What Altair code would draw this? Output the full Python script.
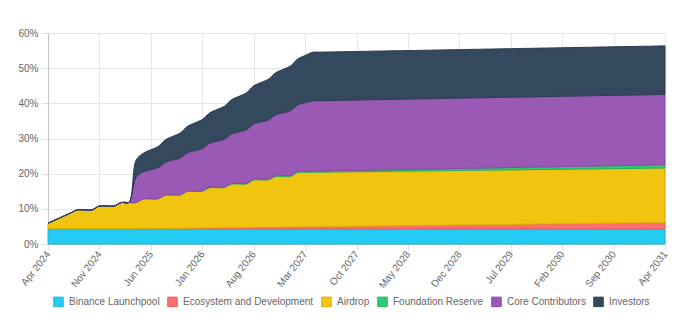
import json
import altair as alt
import pandas as pd

series = ["Binance Launchpool", "Ecosystem and Development", "Airdrop",
          "Foundation Reserve", "Core Contributors", "Investors"]
fills = ["#24CCF5", "#FF6F6F", "#F1C40F", "#2ECC71", "#9B59B6", "#34495E"]
strokes = ["#1EB6DC", "#E65C5C", "#D9AE0A", "#27AE60", "#8E44AD", "#2C3E50"]

tick_labels = ["Apr 2024", "Nov 2024", "Jun 2025", "Jan 2026", "Aug 2026", "Mar 2027",
               "Oct 2027", "May 2028", "Dec 2028", "Jul 2029", "Feb 2030", "Sep 2030", "Apr 2031"]

# monthly values (% of supply), Apr 2024 .. Apr 2031 (85 months)
binance = [4.25] * 85

ecosystem = [0.05, 0.05, 0.05, 0.05, 0.05, 0.05, 0.05, 0.05, 0.05, 0.05, 0.05, 0.05, 0.05,
             0.08, 0.10, 0.13, 0.15, 0.18, 0.20, 0.23, 0.25, 0.28, 0.30, 0.33, 0.35,
             0.38, 0.40, 0.43, 0.45, 0.48, 0.50, 0.53, 0.55, 0.58, 0.60, 0.63, 0.65,
             0.68, 0.70, 0.73, 0.75, 0.78, 0.80, 0.83, 0.85, 0.88, 0.90, 0.93, 0.95,
             0.98, 1.00, 1.03, 1.05, 1.08, 1.10, 1.13, 1.15, 1.18, 1.20, 1.23, 1.25,
             1.28, 1.30, 1.33, 1.35, 1.38, 1.40, 1.43, 1.45, 1.48, 1.50, 1.53, 1.55,
             1.58, 1.60, 1.63, 1.65, 1.68, 1.70, 1.73, 1.75, 1.78, 1.80, 1.83, 1.85]

airdrop = [1.60, 2.55, 3.50, 4.45, 5.40, 5.40, 5.40, 6.50, 6.50, 6.50, 7.50, 7.50, 7.50,
           8.50, 8.50, 8.50, 9.50, 9.50, 9.50, 10.50, 10.50, 10.50, 11.45, 11.45, 11.45,
           12.40, 12.40, 12.40, 13.50, 13.50, 13.50, 14.40, 14.40, 14.40, 15.50, 15.50, 15.50,
           15.50, 15.50, 15.50, 15.50, 15.50, 15.50, 15.50, 15.50, 15.50, 15.50, 15.50, 15.50,
           15.50, 15.50, 15.50, 15.50, 15.50, 15.50, 15.50, 15.50, 15.50, 15.50, 15.50, 15.50,
           15.50, 15.50, 15.50, 15.50, 15.50, 15.50, 15.50, 15.50, 15.50, 15.50, 15.50, 15.50,
           15.50, 15.50, 15.50, 15.50, 15.50, 15.50, 15.50, 15.50, 15.50, 15.50, 15.50, 15.50]

foundation = [0, 0, 0, 0, 0, 0, 0, 0, 0, 0, 0, 0, 0,
              0.01, 0.03, 0.04, 0.05, 0.07, 0.08, 0.09, 0.10, 0.12, 0.13, 0.14, 0.16,
              0.17, 0.18, 0.20, 0.21, 0.22, 0.23, 0.25, 0.26, 0.27, 0.29, 0.30, 0.31,
              0.33, 0.34, 0.35, 0.36, 0.38, 0.39, 0.40, 0.42, 0.43, 0.44, 0.46, 0.47,
              0.48, 0.49, 0.51, 0.52, 0.53, 0.55, 0.56, 0.57, 0.59, 0.60, 0.61, 0.62,
              0.64, 0.65, 0.66, 0.68, 0.69, 0.70, 0.72, 0.73, 0.74, 0.75, 0.77, 0.78,
              0.79, 0.81, 0.82, 0.83, 0.85, 0.86, 0.87, 0.88, 0.90, 0.91, 0.92, 0.94]

core = [0, 0, 0, 0, 0, 0, 0, 0, 0, 0, 0, 0, 7.20,
        7.73, 8.27, 8.80, 9.33, 9.87, 10.40, 10.93, 11.47, 12.00, 12.53, 13.07, 13.60,
        14.13, 14.67, 15.20, 15.73, 16.27, 16.80, 17.33, 17.87, 18.40, 18.93, 19.47, 20.00,
        20.00, 20.00, 20.00, 20.00, 20.00, 20.00, 20.00, 20.00, 20.00, 20.00, 20.00, 20.00,
        20.00, 20.00, 20.00, 20.00, 20.00, 20.00, 20.00, 20.00, 20.00, 20.00, 20.00, 20.00,
        20.00, 20.00, 20.00, 20.00, 20.00, 20.00, 20.00, 20.00, 20.00, 20.00, 20.00, 20.00,
        20.00, 20.00, 20.00, 20.00, 20.00, 20.00, 20.00, 20.00, 20.00, 20.00, 20.00, 20.00]

investors = [0, 0, 0, 0, 0, 0, 0, 0, 0, 0, 0, 0, 4.90,
             5.27, 5.64, 6.01, 6.38, 6.75, 7.13, 7.50, 7.87, 8.24, 8.61, 8.98, 9.35,
             9.72, 10.09, 10.46, 10.84, 11.21, 11.58, 11.95, 12.32, 12.69, 13.06, 13.43, 13.80,
             13.80, 13.80, 13.80, 13.80, 13.80, 13.80, 13.80, 13.80, 13.80, 13.80, 13.80, 13.80,
             13.80, 13.80, 13.80, 13.80, 13.80, 13.80, 13.80, 13.80, 13.80, 13.80, 13.80, 13.80,
             13.80, 13.80, 13.80, 13.80, 13.80, 13.80, 13.80, 13.80, 13.80, 13.80, 13.80, 13.80,
             13.80, 13.80, 13.80, 13.80, 13.80, 13.80, 13.80, 13.80, 13.80, 13.80, 13.80, 13.80]

values = [binance, ecosystem, airdrop, foundation, core, investors]

rows = []
for si, (name, vals) in enumerate(zip(series, values)):
    for m, v in enumerate(vals):
        rows.append({"m": m, "series": name, "order": si, "value": v})
df = pd.DataFrame(rows)

FONT = "Liberation Sans"
label_expr = json.dumps(tick_labels) + "[round(datum.value / 7)]"

chart = alt.Chart(df).mark_area(interpolate="catmull-rom", strokeWidth=1, fillOpacity=1).encode(
    x=alt.X("m:Q", scale=alt.Scale(domain=[0, 84], nice=False, zero=False),
            axis=alt.Axis(values=list(range(0, 85, 7)), labelExpr=label_expr, title=None,
                          labelAngle=-52, labelAlign="right", labelBaseline="middle",
                          tickSize=6, labelPadding=2, grid=True)),
    y=alt.Y("value:Q", stack="zero", scale=alt.Scale(domain=[0, 60], nice=False),
            axis=alt.Axis(values=list(range(0, 61, 10)), labelExpr="datum.value + '%'",
                          title=None, tickSize=7, labelPadding=3, grid=True)),
    fill=alt.Fill("series:N", scale=alt.Scale(domain=series, range=fills),
                  legend=alt.Legend(title=None, orient="none", direction="horizontal",
                                    legendX=5, legendY=263, symbolType="square",
                                    symbolSize=90, symbolStrokeWidth=1,
                                    labelOffset=5, columnPadding=5, padding=0)),
    stroke=alt.Stroke("series:N", scale=alt.Scale(domain=series, range=strokes), legend=None),
    order=alt.Order("order:Q", sort="ascending"),
).properties(
    width=617, height=211,
    autosize=alt.AutoSizeParams(type="none"),
    padding={"left": 48, "top": 33, "right": 15, "bottom": 85},
).configure_view(stroke=None).configure_axis(
    labelFont=FONT, labelFontSize=10, labelColor="#666666",
    gridColor="#e6e6e6", tickColor="#e0e0e0", domainColor="#c8c8c8",
).configure_legend(
    labelFont=FONT, labelFontSize=10, labelColor="#666666",
)

chart.save("out.html", embed_options={"renderer": "svg", "actions": False})
